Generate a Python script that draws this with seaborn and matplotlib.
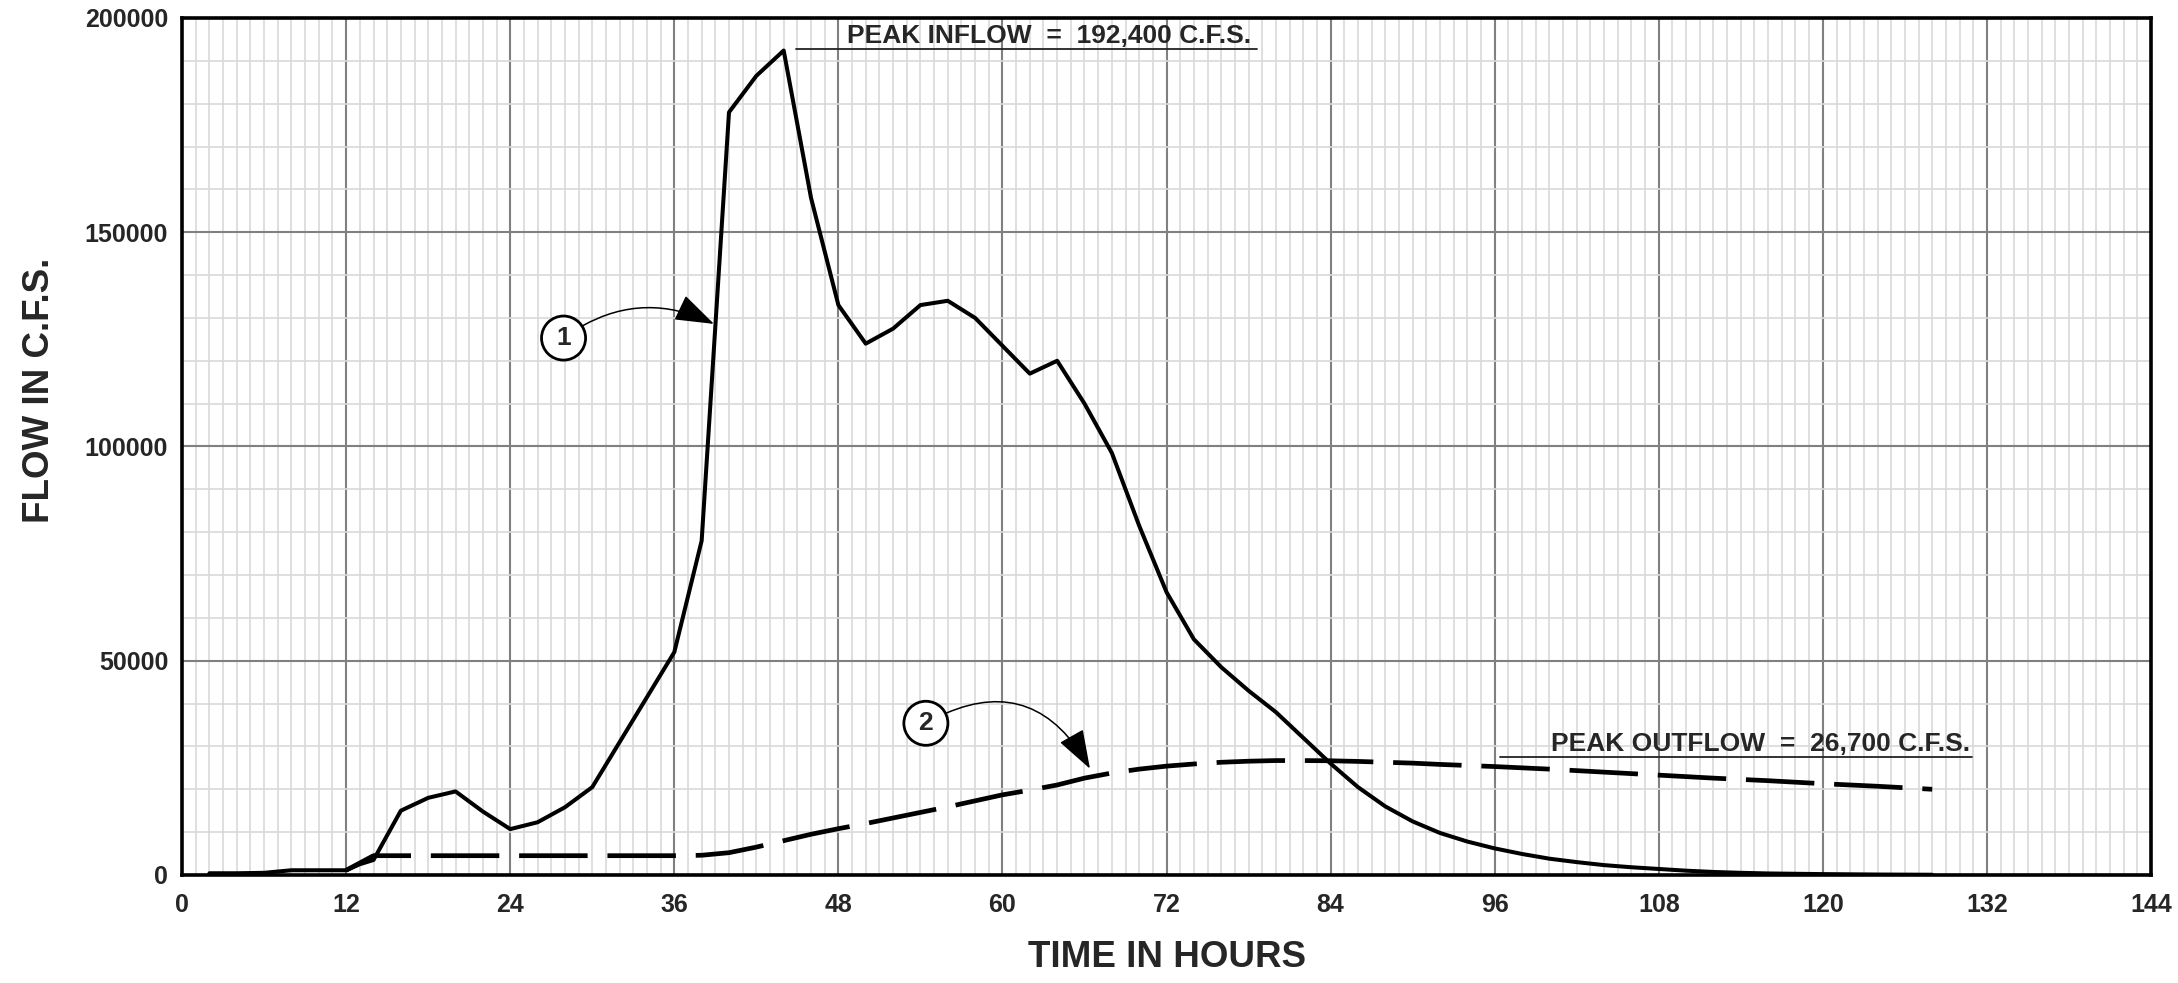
import numpy as np
import pandas as pd
import matplotlib
matplotlib.use("Agg")
import matplotlib.pyplot as plt
from matplotlib.ticker import MultipleLocator, FixedLocator
import seaborn as sns

# ---------------- data ----------------
inflow_hours = [2, 4, 6, 8, 10, 12, 13, 14, 16, 18, 20, 22, 24, 26, 28, 30, 32, 34, 36, 38,
                40, 42, 44, 46, 48, 50, 52, 54, 56, 58, 60, 62, 64, 66, 68, 70, 72, 74, 76,
                78, 80, 82, 84, 86, 88, 90, 92, 94, 96, 98, 100, 102, 104, 106, 108, 110,
                112, 114, 116, 120, 124, 128]
inflow_cfs = [400, 400, 500, 1100, 1100, 1100, 2500, 3500, 15000, 18000, 19500, 14800, 10700,
              12300, 15800, 20500, 31000, 41500, 52000, 78000, 178000, 186500, 192400, 158000,
              133000, 124000, 127500, 133000, 134000, 130000, 123500, 117000, 120000, 110000,
              98500, 81500, 66000, 55000, 48500, 43000, 38000, 32000, 26000, 20500, 16000,
              12500, 9800, 7800, 6200, 4900, 3800, 3000, 2300, 1800, 1400, 1000, 700, 500,
              350, 200, 100, 50]

outflow_hours = [12, 14, 16, 20, 24, 28, 32, 36, 38, 40, 42, 44, 46, 48, 50, 52, 54, 56, 58,
                 60, 62, 64, 66, 68, 70, 72, 74, 76, 78, 80, 82, 84, 86, 88, 90, 92, 96, 100,
                 104, 108, 112, 116, 120, 124, 128]
outflow_cfs = [1100, 4500, 4500, 4500, 4500, 4500, 4500, 4500, 4600, 5200, 6500, 8000, 9500,
               10800, 12000, 13300, 14600, 15900, 17300, 18700, 19800, 21000, 22600, 23800,
               24700, 25400, 25900, 26300, 26550, 26700, 26700, 26650, 26500, 26300, 26100,
               25800, 25300, 24700, 24000, 23300, 22600, 22000, 21300, 20700, 20000]

x_ticks = [0, 12, 24, 36, 48, 60, 72, 84, 96, 108, 120, 132, 144]
y_ticks = [0, 50000, 100000, 150000, 200000]
x_label = "TIME IN HOURS"
y_label = "FLOW IN C.F.S."
peak_in_text = "PEAK INFLOW  =  192,400 C.F.S."
peak_out_text = "PEAK OUTFLOW  =  26,700 C.F.S."

# ---------------- style ----------------
sns.set_style("white")
plt.rcParams["font.family"] = ["Liberation Sans", "DejaVu Sans"]
plt.rcParams["font.weight"] = "bold"

fig = plt.figure(figsize=(21.78, 9.83), dpi=100)
ax = fig.add_axes([0.0836, 0.1099, 0.9040, 0.8718])

df_in = pd.DataFrame({"hours": inflow_hours, "cfs": inflow_cfs})
df_out = pd.DataFrame({"hours": outflow_hours, "cfs": outflow_cfs})

sns.lineplot(data=df_in, x="hours", y="cfs", ax=ax, color="black", lw=2.9,
             sort=False, estimator=None, zorder=5)
sns.lineplot(data=df_out, x="hours", y="cfs", ax=ax, color="black", lw=3.4,
             sort=False, estimator=None, zorder=5, linestyle=(0, (14.5, 4.2)))

ax.set_xlim(0, 144)
ax.set_ylim(0, 200000)

ax.xaxis.set_major_locator(FixedLocator(x_ticks))
ax.yaxis.set_major_locator(FixedLocator(y_ticks))
ax.xaxis.set_minor_locator(MultipleLocator(1))
ax.yaxis.set_minor_locator(MultipleLocator(10000))
ax.set_xticklabels([str(v) for v in x_ticks])
ax.set_yticklabels([str(v) for v in y_ticks])

ax.grid(which="minor", color="#d9d9d9", lw=1.2, zorder=0)
ax.grid(which="major", color="#808080", lw=1.5, zorder=1)
ax.set_axisbelow(True)

ax.tick_params(which="both", length=0)
ax.tick_params(axis="x", labelsize=18, pad=13)
ax.tick_params(axis="y", labelsize=18, pad=10)
for lab in ax.get_xticklabels() + ax.get_yticklabels():
    lab.set_fontweight("bold")

for s in ax.spines.values():
    s.set_visible(True)
    s.set_color("black")
    s.set_linewidth(2.6)

ax.set_xlabel(x_label, fontsize=26.5, fontweight="bold", va="center")
ax.xaxis.set_label_coords(0.5, -0.096)
ax.set_ylabel(y_label, fontsize=26.5, fontweight="bold", va="center")
ax.yaxis.set_label_coords(-0.0726, 0.566)

# ---------------- annotations ----------------
ax.text(48.6, 195800, peak_in_text, fontsize=19, fontweight="bold", va="center", ha="left", zorder=6)
ax.plot([44.9, 78.6], [192700, 192700], color="#222222", lw=1.3, zorder=6)
ax.text(100.1, 30600, peak_out_text, fontsize=19, fontweight="bold", va="center", ha="left", zorder=6)
ax.plot([96.4, 130.9], [27540, 27540], color="#222222", lw=1.3, zorder=6)

circ = dict(boxstyle="circle,pad=0.38", fc="white", ec="black", lw=2)
arrow = dict(arrowstyle="-|>,head_length=1.3,head_width=0.45", color="black", lw=1.1,
             shrinkA=0, shrinkB=0)
ax.annotate("1", xy=(38.9, 128600), xytext=(27.9, 125300), fontsize=19, fontweight="bold",
            ha="center", va="center", bbox=circ, zorder=7,
            arrowprops=dict(arrow, connectionstyle="arc3,rad=-0.3"))
ax.annotate("2", xy=(66.4, 24800), xytext=(54.4, 35400), fontsize=19, fontweight="bold",
            ha="center", va="center", bbox=circ, zorder=7,
            arrowprops=dict(arrow, connectionstyle="arc3,rad=-0.5"))

fig.savefig("out.png", dpi=100)
